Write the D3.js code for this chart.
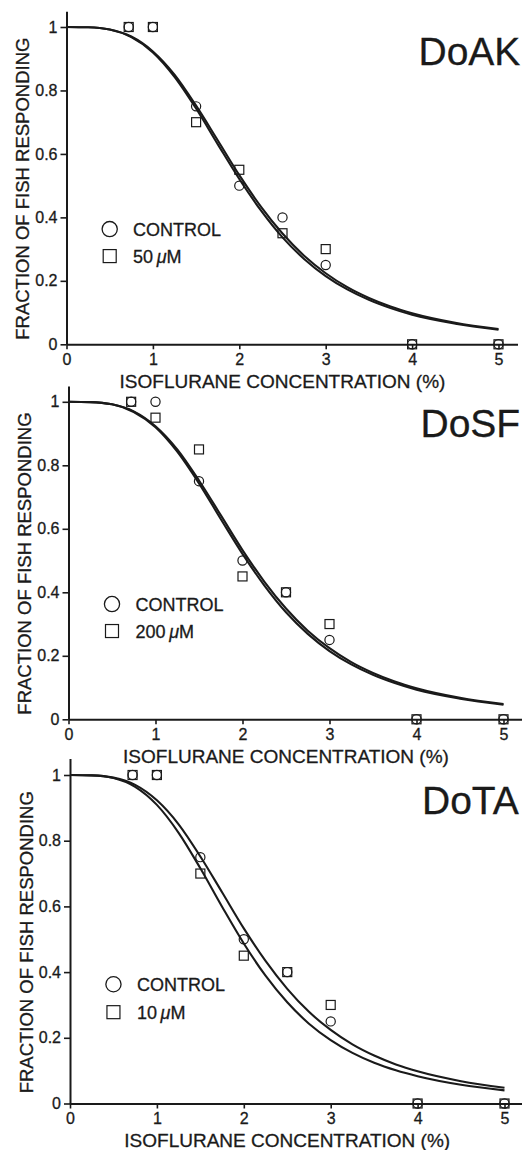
<!DOCTYPE html>
<html>
<head>
<meta charset="utf-8">
<script src="https://cdn.jsdelivr.net/npm/d3@7"></script>
<style>
  body { margin: 0; background: #fff; }
  svg { display: block; font-family: "Liberation Sans", Arial, sans-serif; }
  svg text { stroke: #1a1a1a; stroke-width: 0.3px; }
  .axis path, .axis line { stroke: #1a1a1a; }
  .axis text { font-size: 16px; fill: #1a1a1a; font-family: "Liberation Sans", Arial, sans-serif; }
</style>
</head>
<body>
<svg id="chart"></svg>
<script>
// tick labels
const xTicks = [0, 1, 2, 3, 4, 5];
const yTicks = [0, 0.2, 0.4, 0.6, 0.8, 1];

// measured points (isoflurane %, fraction responding)
const conc = [0.72, 1, 1.5, 2, 2.5, 3, 4, 5];
const doakControl = [1, 1, 0.75, 0.5, 0.4, 0.25, 0, 0];
const doak50 = [1, 1, 0.7, 0.55, 0.35, 0.3, 0, 0];
const dosfControl = [1, 1, 0.75, 0.5, 0.4, 0.25, 0, 0];
const dosf200 = [1, 0.95, 0.85, 0.45, 0.4, 0.3, 0, 0];
const dotaControl = [1, 1, 0.75, 0.5, 0.4, 0.25, 0, 0];
const dota10 = [1, 1, 0.7, 0.45, 0.4, 0.3, 0, 0];

// fitted curves
const curveX = [0, 0.25, 0.5, 0.75, 1, 1.25, 1.5, 1.75, 2, 2.25, 2.5, 2.75, 3, 3.25, 3.5, 3.75, 4, 4.5, 5];
const doakCurve1 = [1, 0.999, 0.992, 0.968, 0.920, 0.843, 0.743, 0.631, 0.521, 0.422, 0.337, 0.269, 0.215, 0.173, 0.140, 0.114, 0.093, 0.065, 0.046];
const doakCurve2 = [1, 0.999, 0.992, 0.970, 0.923, 0.850, 0.752, 0.643, 0.533, 0.434, 0.349, 0.279, 0.224, 0.180, 0.146, 0.119, 0.098, 0.068, 0.048];
const dosfCurve1 = [1, 0.999, 0.992, 0.968, 0.920, 0.843, 0.743, 0.631, 0.521, 0.422, 0.337, 0.269, 0.215, 0.173, 0.140, 0.114, 0.093, 0.065, 0.046];
const dosfCurve2 = [1, 0.999, 0.992, 0.970, 0.923, 0.850, 0.752, 0.643, 0.533, 0.434, 0.349, 0.279, 0.224, 0.180, 0.146, 0.119, 0.098, 0.068, 0.048];
const dotaCurve1 = [1, 0.999, 0.992, 0.970, 0.923, 0.850, 0.752, 0.643, 0.533, 0.434, 0.349, 0.279, 0.224, 0.180, 0.146, 0.119, 0.098, 0.068, 0.048];
const dotaCurve2 = [1, 0.999, 0.991, 0.964, 0.909, 0.824, 0.716, 0.599, 0.487, 0.389, 0.308, 0.243, 0.193, 0.154, 0.124, 0.101, 0.083, 0.057, 0.040];

const panels = [
  { name: "DoAK", dose: "50", control: doakControl, treated: doak50, curves: [doakCurve1, doakCurve2],
    left: 66.5, unit: 86.4, zero: 344.3, one: 27, nameY: 65 },
  { name: "DoSF", dose: "200", control: dosfControl, treated: dosf200, curves: [dosfCurve1, dosfCurve2],
    left: 68.5, unit: 87, zero: 719.3, one: 401.8, nameY: 437 },
  { name: "DoTA", dose: "10", control: dotaControl, treated: dota10, curves: [dotaCurve1, dotaCurve2],
    left: 70, unit: 86.9, zero: 1103.5, one: 775, nameY: 814 }
];

const width = 522, height = 1150;
const ink = "#1a1a1a";

const svg = d3.select("#chart")
  .attr("width", width)
  .attr("height", height);

panels.forEach(p => {
  const x = d3.scaleLinear().domain([0, 5.22]).range([p.left, p.left + 5.22 * p.unit]);
  const y = d3.scaleLinear().domain([0, 1.05]).range([p.zero, p.zero - 1.05 * (p.zero - p.one)]);

  const g = svg.append("g");

  // axes
  g.append("g")
    .attr("class", "axis")
    .attr("transform", `translate(0,${p.zero})`)
    .call(d3.axisBottom(x).tickValues(xTicks).tickFormat(d => String(d)).tickSize(5).tickSizeOuter(0).tickPadding(4))
    .call(a => a.select(".domain").attr("stroke-width", 2))
    .call(a => a.selectAll(".tick line").attr("stroke-width", 1.6));

  g.append("g")
    .attr("class", "axis")
    .attr("transform", `translate(${p.left},0)`)
    .call(d3.axisLeft(y).tickValues(yTicks).tickFormat(d => String(d)).tickSize(6).tickSizeOuter(0).tickPadding(3))
    .call(a => a.select(".domain").attr("stroke-width", 2))
    .call(a => a.selectAll(".tick line").attr("stroke-width", 1.6));

  // axis titles
  g.append("text")
    .attr("x", x(2.5))
    .attr("y", p.zero + 43.5)
    .attr("text-anchor", "middle")
    .attr("font-size", 19)
    .attr("fill", ink)
    .text("ISOFLURANE CONCENTRATION (%)");

  g.append("text")
    .attr("transform", `translate(${p.left - 37.5},${(p.zero + p.one) / 2 + 3}) rotate(-90)`)
    .attr("text-anchor", "middle")
    .attr("font-size", 18.5)
    .attr("fill", ink)
    .text("FRACTION OF FISH RESPONDING");

  // panel name
  g.append("text")
    .attr("x", p.left + 352)
    .attr("y", p.nameY)
    .attr("font-size", 39)
    .attr("fill", ink)
    .text(p.name);

  // fitted curves
  const line = d3.line()
    .x((d, i) => x(curveX[i]))
    .y(d => y(d))
    .curve(d3.curveMonotoneX);

  g.selectAll(".fit")
    .data(p.curves)
    .enter()
    .append("path")
    .attr("class", "fit")
    .attr("d", d => line(d))
    .attr("fill", "none")
    .attr("stroke", ink)
    .attr("stroke-width", 2.1);

  // control points: circles
  g.selectAll(".ctrl")
    .data(p.control)
    .enter()
    .append("circle")
    .attr("class", "ctrl")
    .attr("cx", (d, i) => x(conc[i]))
    .attr("cy", d => y(d))
    .attr("r", 4.6)
    .attr("fill", "none")
    .attr("stroke", ink)
    .attr("stroke-width", 1.2);

  // treated points: squares
  g.selectAll(".trt")
    .data(p.treated)
    .enter()
    .append("rect")
    .attr("class", "trt")
    .attr("x", (d, i) => x(conc[i]) - 4.5)
    .attr("y", d => y(d) - 4.5)
    .attr("width", 9)
    .attr("height", 9)
    .attr("fill", "none")
    .attr("stroke", ink)
    .attr("stroke-width", 1.2);

  // legend
  const lx = x(0.5), tx = x(0.77);
  const cy = y(0.363), sy = y(0.278);
  g.append("circle")
    .attr("cx", lx).attr("cy", cy).attr("r", 7.6)
    .attr("fill", "none").attr("stroke", ink).attr("stroke-width", 1.3);
  g.append("rect")
    .attr("x", lx - 6.5).attr("y", sy - 6.5).attr("width", 13).attr("height", 13)
    .attr("fill", "none").attr("stroke", ink).attr("stroke-width", 1.2);
  g.append("text")
    .attr("x", tx).attr("y", cy + 6.8)
    .attr("font-size", 18).attr("fill", ink)
    .text("CONTROL");
  const t2 = g.append("text")
    .attr("x", tx).attr("y", sy + 6.8)
    .attr("font-size", 18).attr("fill", ink);
  t2.append("tspan").text(p.dose + "\u2009");
  t2.append("tspan").attr("font-style", "italic").text("\u03bc");
  t2.append("tspan").text("M");
});
</script>
</body>
</html>
